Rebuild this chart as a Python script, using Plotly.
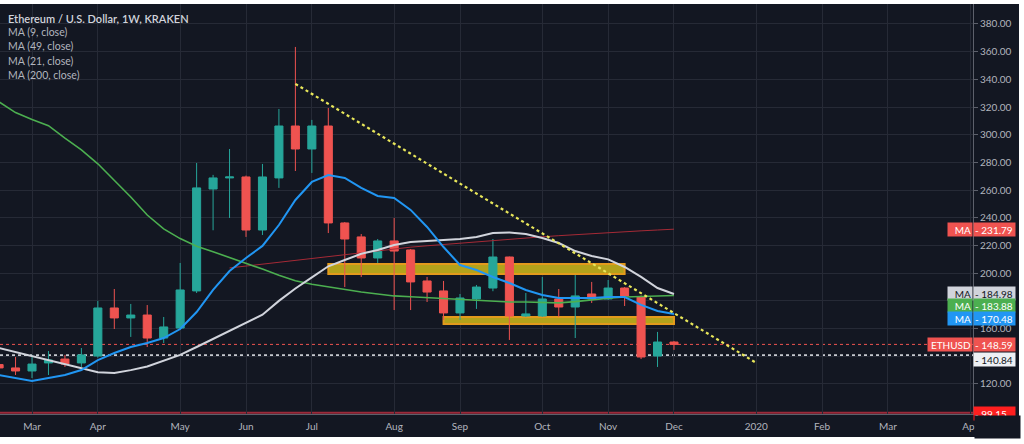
import plotly.graph_objects as go
import pandas as pd

# ---------------- layout geometry (pixels) ----------------
W, H = 1024, 444
ML, MR, MT, MB = 0, 51, 4, 30
PW = W - ML - MR   # 973
PH = H - MT - MB   # 410

def px_x(px):
    return (px - ML) / PW

def px_y(py):
    return (H - MB - py) / PH

# ---------------- data ----------------
weeks = pd.date_range("2019-02-18", periods=42, freq="7D")

opens = [134.0, 131.6, 129.4, 135.2, 138.0, 135.2, 140.2, 174.9, 167.7, 169.8,
         153.2, 160.4, 187.2, 260.8, 268.8, 269.5, 231.2, 268.8, 306.3, 289.7,
         306.3, 236.3, 226.2, 211.0, 223.3, 216.8, 194.4, 187.2, 171.3, 181.4,
         189.3, 211.7, 169.1, 169.1, 181.4, 175.6, 185.0, 181.4, 189.3, 182.8,
         140.2, 150.3]
highs = [137.0, 139.5, 141.0, 143.8, 141.0, 146.0, 180.0, 188.6, 177.8, 177.0,
         168.4, 207.4, 279.6, 271.0, 289.7, 270.5, 278.9, 318.6, 363.4, 310.7,
         319.3, 237.0, 228.3, 224.7, 239.9, 217.5, 197.3, 194.4, 185.0, 191.5,
         224.7, 212.0, 185.7, 197.3, 188.6, 198.7, 193.7, 195.1, 190.0, 184.0,
         157.6, 151.0]
lows = [129.5, 126.5, 124.3, 126.5, 132.3, 132.3, 139.0, 159.7, 154.0, 146.7,
        149.6, 159.5, 185.7, 231.0, 239.9, 226.2, 227.6, 261.6, 273.8, 272.4,
        229.0, 190.0, 197.3, 207.4, 173.4, 173.4, 179.2, 166.2, 166.2, 174.2,
        187.0, 151.8, 168.4, 168.4, 168.4, 153.2, 178.5, 180.7, 176.3, 138.0,
        132.3, 144.6]
closes = [131.6, 129.4, 134.4, 137.3, 134.4, 141.0, 174.9, 167.7, 169.8, 153.2,
          161.2, 187.9, 261.6, 268.8, 269.5, 231.2, 269.5, 306.3, 289.7, 306.3,
          236.3, 224.7, 211.0, 223.3, 216.0, 193.7, 186.4, 171.3, 182.1, 190.0,
          211.7, 169.1, 170.6, 181.4, 175.6, 183.6, 181.4, 189.3, 183.6, 139.5,
          150.3, 148.59]

ma9 = [126.5, 124.3, 122.2, 124.3, 126.5, 130.1, 137.3, 142.4, 146.7, 149.6,
       153.2, 159.7, 172.0, 187.9, 201.6, 211.0, 219.7, 234.8, 252.9, 265.9,
       270.9, 268.8, 261.6, 255.8, 254.3, 245.7, 233.4, 218.9, 205.9, 202.3,
       197.3, 192.9, 187.9, 184.3, 182.1, 182.1, 182.1, 182.8, 182.8, 177.1,
       172.7, 170.48]
ma49 = [323.7, 316.0, 311.0, 306.5, 297.5, 289.0, 279.0, 267.0, 255.0, 242.0,
        232.0, 225.0, 219.5, 215.5, 211.5, 207.5, 203.0, 198.5, 194.5, 192.0,
        190.0, 188.0, 186.4, 185.0, 183.6, 183.0, 182.3, 181.7, 181.0, 180.3,
        179.6, 179.2, 179.2, 179.0, 178.6, 179.5, 180.8, 182.0, 182.8, 183.2,
        183.5, 183.88]
ma21 = [146.0, 143.0, 140.2, 137.0, 134.0, 131.0, 128.5, 128.0, 130.0, 132.6,
        136.8, 141.0, 146.7, 152.5, 158.0, 163.7, 170.0, 180.0, 189.0, 197.0,
        205.0, 209.5, 214.0, 216.8, 220.4, 222.6, 223.3, 224.0, 224.7, 226.2,
        229.0, 229.4, 228.3, 225.4, 221.8, 216.0, 212.4, 210.0, 204.5, 197.3,
        189.3, 184.98]
ma200 = [None] * 14 + [203.8, 205.2, 206.5, 207.8, 209.2, 210.6, 212.0, 213.4,
                       214.8, 216.2, 217.6, 218.8, 219.8, 220.8, 221.8, 222.7,
                       223.6, 224.5, 225.4, 226.3, 227.1, 227.9, 228.6, 229.3,
                       230.0, 230.6, 231.2, 231.79]

trend_dates = ["2019-06-24", "2020-01-06"]
trend_values = [336.7, 135.2]

zone_starts = ["2019-07-08", "2019-08-26"]
zone_ends = ["2019-11-11", "2019-12-02"]
zone_lows = [199.4, 163.3]
zone_highs = [206.7, 168.4]

last_price = 148.59
level_white = 140.84
level_low = 99.15

month_ticks = ["2019-03-04", "2019-04-01", "2019-05-06", "2019-06-03", "2019-07-01",
               "2019-08-05", "2019-09-02", "2019-10-07", "2019-11-04", "2019-12-02",
               "2020-01-06", "2020-02-03", "2020-03-02", "2020-04-06"]
month_labels = ["Mar", "Apr", "May", "Jun", "Jul", "Aug", "Sep", "Oct", "Nov", "Dec",
                "2020", "Feb", "Mar", "Apr"]
price_ticks = list(range(120, 381, 20))
# labels for 140 and 180 sit completely under the price tags in the reference
hidden_price_labels = [140, 180]
price_labels = ["" if v in hidden_price_labels else "%.2f" % v for v in price_ticks]

x_range = ["2019-02-18 09:22", "2020-04-07 03:36"]
y_range = [98.33, 394.4]

# ---------------- styling ----------------
BG = "#131722"
GRID = "#262a36"
AXIS = "#5d606b"
TXT = "#b2b5be"
UP = "#26a69a"
DOWN = "#ef5350"
FONT = "Lato, 'Noto Sans', sans-serif"

fig = go.Figure()

fig.add_trace(go.Scatter(x=weeks, y=ma200, mode="lines",
                         line=dict(color="#a52a36", width=1), hoverinfo="skip"))
fig.add_trace(go.Scatter(x=weeks, y=ma49, mode="lines",
                         line=dict(color="#4caf50", width=1.6), hoverinfo="skip"))
fig.add_trace(go.Scatter(x=weeks, y=ma21, mode="lines",
                         line=dict(color="#d1d4dc", width=2), hoverinfo="skip"))
fig.add_trace(go.Scatter(x=weeks, y=ma9, mode="lines",
                         line=dict(color="#2196f3", width=2), hoverinfo="skip"))

fig.add_trace(go.Candlestick(
    x=weeks, open=opens, high=highs, low=lows, close=closes,
    increasing=dict(line=dict(color=UP, width=1), fillcolor=UP),
    decreasing=dict(line=dict(color=DOWN, width=1), fillcolor=DOWN),
    whiskerwidth=0, hoverinfo="skip"))

fig.add_trace(go.Scatter(x=trend_dates, y=trend_values, mode="lines",
                         line=dict(color="#e8e65a", width=2.2, dash="dot"),
                         hoverinfo="skip"))

shapes = []
# dark panel behind the whole chart (screenshot frame leaves a thin white border)
shapes.append(dict(type="rect", xref="paper", yref="paper", layer="below",
                   x0=px_x(0), x1=px_x(1019), y0=px_y(437), y1=px_y(4),
                   fillcolor=BG, line=dict(width=0)))
for xs, xe, lo, hi in zip(zone_starts, zone_ends, zone_lows, zone_highs):
    shapes.append(dict(type="rect", xref="x", yref="y", layer="between",
                       x0=xs, x1=xe, y0=lo, y1=hi,
                       fillcolor="#b3a21b", line=dict(color="#e39a1c", width=2)))
shapes.append(dict(type="line", xref="paper", yref="y", layer="between",
                   x0=0, x1=1, y0=last_price, y1=last_price,
                   line=dict(color="#ef5350", width=1, dash="dot")))
shapes.append(dict(type="line", xref="paper", yref="y", layer="between",
                   x0=0, x1=1, y0=level_white, y1=level_white,
                   line=dict(color="#c8cad0", width=2, dash="dot")))
shapes.append(dict(type="line", xref="paper", yref="y", layer="between",
                   x0=0, x1=1, y0=level_low, y1=level_low,
                   line=dict(color="#9c2a3a", width=2)))

annotations = []
legend_lines = ["Ethereum / U.S. Dollar, 1W, KRAKEN", "MA (9, close)", "MA (49, close)",
                "MA (21, close)", "MA (200, close)"]
for i, t in enumerate(legend_lines):
    annotations.append(dict(
        xref="paper", yref="paper", x=px_x(6), y=px_y(18 + i * 14.2),
        xanchor="left", yanchor="middle", showarrow=False, text=t,
        font=dict(family=FONT, size=11 if i == 0 else 10.5,
                  color="#d1d4dc" if i == 0 else TXT,
                  weight=600 if i == 0 else 400)))

right_labels = [
    ("MA", 231.79, "#ef5350", "#ffffff", 0),
    ("MA", 184.98, "#d1d4dc", "#131722", 1),
    ("MA", 183.88, "#4caf50", "#ffffff", -10),
    ("MA", 170.48, "#2196f3", "#ffffff", -4.5),
    ("ETHUSD", 148.59, "#ef5350", "#ffffff", 0),
    (None, 140.84, "#eef0f4", "#131722", -4),
    (None, 99.15, "#ff1f1f", "#ffffff", -1),
]
for name, val, bg, fg, ys in right_labels:
    annotations.append(dict(
        xref="paper", yref="y", x=1.0, y=val, xanchor="left", yanchor="middle",
        yshift=ys, showarrow=False, text="- %.2f" % val, align="left",
        width=39, height=11, borderpad=1, bgcolor=bg,
        font=dict(family=FONT, size=10, color=fg)))
    if name:
        annotations.append(dict(
            xref="paper", yref="y", x=1.0, y=val, xanchor="right", yanchor="middle",
            yshift=ys, showarrow=False, text=name, align="right",
            width=22 if name == "MA" else 42, height=11, borderpad=1, bgcolor=bg,
            font=dict(family=FONT, size=10, color=fg)))
# time-scale corner box (clips the last month label and the low-price tag)
annotations.append(dict(
    xref="paper", yref="paper", x=px_x(974), y=px_y(415), xanchor="left", yanchor="top",
    showarrow=False, text=" ", width=45, height=22, borderpad=0, bgcolor=BG))

fig.update_layout(
    width=W, height=H,
    margin=dict(l=ML, r=MR, t=MT, b=MB),
    paper_bgcolor="#ffffff", plot_bgcolor=BG,
    showlegend=False, hovermode=False,
    shapes=shapes, annotations=annotations,
    font=dict(family=FONT, color=TXT),
)
fig.update_xaxes(
    type="date", range=x_range, rangeslider=dict(visible=False),
    tickvals=month_ticks, ticktext=month_labels,
    showgrid=True, gridcolor=GRID, gridwidth=1,
    showline=True, linecolor=AXIS, linewidth=1, mirror=False,
    ticks="", ticklabelstandoff=3, tickfont=dict(family=FONT, size=10, color=TXT),
    zeroline=False,
)
fig.update_yaxes(
    side="right", range=y_range, tickvals=price_ticks, ticktext=price_labels,
    showgrid=True, gridcolor=GRID, gridwidth=1,
    showline=True, linecolor=AXIS, linewidth=1,
    ticks="outside", ticklen=4, tickcolor=AXIS,
    tickfont=dict(family=FONT, size=10, color=TXT),
    zeroline=False,
)

fig.write_html(
    "out.html",
    config={"displayModeBar": False},
    post_script="document.body.style.margin='0';document.body.style.overflow='hidden';",
)
